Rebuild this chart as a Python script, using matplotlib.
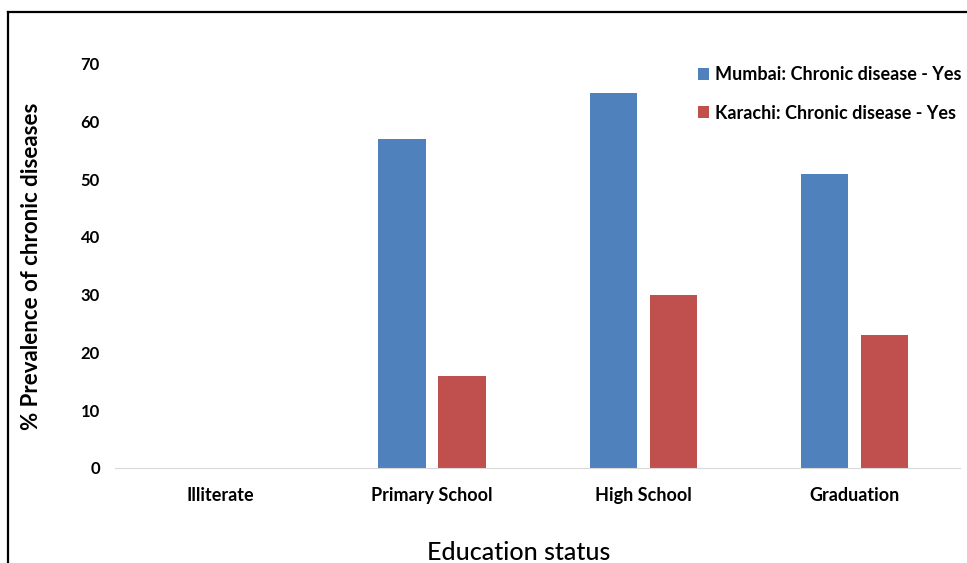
import matplotlib.pyplot as plt
import numpy as np
from matplotlib.lines import Line2D

plt.rcParams['font.family'] = ['Lato', 'DejaVu Sans']

# prevalence of chronic disease (%) by education status
categories = ['Illiterate', 'Primary School', 'High School', 'Graduation']
mumbai = [0, 57, 65, 51]
karachi = [0, 16, 30, 23]
series_names = ['Mumbai: Chronic disease - Yes', 'Karachi: Chronic disease - Yes']
yticks = [0, 10, 20, 30, 40, 50, 60, 70]

fig = plt.figure(figsize=(9.67, 5.63), dpi=100)
ax = fig.add_axes([0.119, 0.169, 0.874, 0.7176])

x = np.arange(len(categories))
w = 0.225
ax.bar(x - 0.142, mumbai, w, color='#4F81BD', label=series_names[0])
ax.bar(x + 0.142, karachi, w, color='#C0504D', label=series_names[1])

ax.set_xlim(-0.5, len(categories) - 0.5)
ax.set_ylim(0, 70)
ax.set_yticks(yticks)
ax.set_xticks(x)
ax.set_xticklabels(categories, fontsize=13, fontweight='bold')
ax.set_yticklabels([str(v) for v in yticks], fontsize=12, fontweight='bold')
ax.tick_params(length=0)
ax.tick_params(axis='y', pad=11)
ax.tick_params(axis='x', pad=14)

for s in ['top', 'right', 'left']:
    ax.spines[s].set_visible(False)
ax.spines['bottom'].set_color('#D9D9D9')

ax.set_ylabel('% Prevalence of chronic diseases', fontsize=16, fontweight='bold')
ax.yaxis.set_label_coords(-0.086, 0.5)
ax.set_xlabel('Education status', fontsize=18, fontweight='medium')
ax.xaxis.set_label_coords(0.477, -0.18)

ax.legend(loc='upper left', bbox_to_anchor=(0.67, 1.035), frameon=False,
          prop={'size': 13, 'weight': 'bold'}, handlelength=0.65, handleheight=0.65,
          handletextpad=0.3, labelspacing=1.2)

# outer frame (top and left edges only)
fig.add_artist(Line2D([8 / 967, 8 / 967], [0, 1 - 12 / 563], color='black', lw=1.6))
fig.add_artist(Line2D([8 / 967, 1], [1 - 12 / 563, 1 - 12 / 563], color='black', lw=1.6))

fig.savefig('out.png', dpi=100)
